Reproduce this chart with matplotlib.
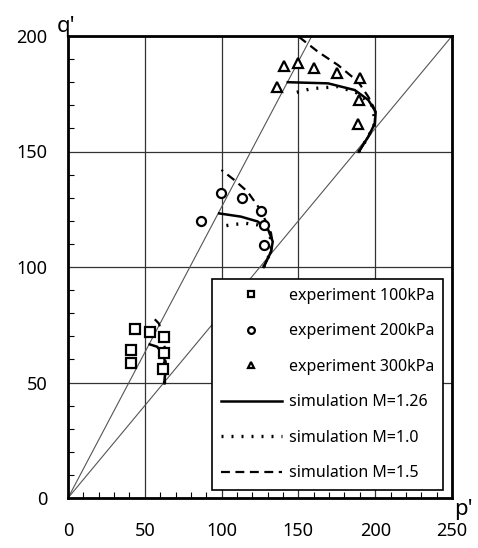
import numpy as np
import matplotlib
matplotlib.use('Agg')
import matplotlib.pyplot as plt
from matplotlib.ticker import MultipleLocator

plt.rcParams['font.family'] = ['Noto Sans', 'DejaVu Sans']

# reference lines through origin (q = slope * p)
line_slopes = [1.26, 0.8]

# experiments (p', q')
exp100_p = [43.8, 53.7, 62.4, 41.2, 62.8, 41.2, 62.0]
exp100_q = [73.2, 72.0, 69.8, 64.1, 62.6, 58.3, 55.8]
exp200_p = [99.5, 113.0, 125.7, 127.4, 127.4, 86.8]
exp200_q = [131.9, 129.7, 124.4, 118.2, 109.5, 119.7]
exp300_p = [140.5, 149.6, 160.1, 175.2, 190.0, 136.1, 189.6, 188.9]
exp300_q = [187.0, 188.2, 186.0, 184.1, 182.0, 177.8, 172.1, 161.8]

# simulation M=1.26
sim126_p = [[62.8, 63.5, 62.4, 58.0, 53.2],
            [127.4, 132.2, 133.3, 130.4, 123.5, 112.6, 98.4],
            [189.3, 195.5, 199.8, 200.3, 195.5, 186.7, 169.3, 143.1]]
sim126_q = [[49.6, 56.8, 61.9, 65.5, 66.5],
            [100.0, 106.7, 111.0, 116.0, 119.7, 121.8, 123.2],
            [149.9, 156.4, 162.2, 167.2, 172.3, 176.6, 179.5, 180.0]]

# simulation M=1.0
sim10_p = [[62.8, 63.3, 62.8, 60.2, 58.0],
           [127.4, 132.0, 132.6, 130.0, 123.5, 115.8, 109.3, 102.7],
           [189.3, 195.5, 199.6, 199.4, 197.6, 188.9, 175.8, 158.4, 146.4]]
sim10_q = [[49.6, 55.5, 59.5, 61.9, 60.5],
           [100.0, 106.5, 111.0, 116.0, 118.2, 118.9, 118.5, 117.9],
           [149.9, 156.4, 162.0, 165.1, 170.1, 175.2, 178.1, 177.2, 175.2]]

# simulation M=1.5
sim15_p = [[62.8, 63.6, 63.3, 61.3, 59.1, 54.8],
           [127.4, 132.2, 133.0, 132.2, 128.9, 124.6, 116.9, 108.2, 99.9],
           [189.3, 195.5, 199.8, 199.8, 195.5, 188.9, 175.8, 162.7, 149.6]]
sim15_q = [[49.6, 57.0, 64.0, 71.3, 75.6, 78.5],
           [100.0, 106.7, 111.0, 114.6, 119.7, 125.4, 132.6, 137.7, 142.0],
           [149.9, 156.4, 162.2, 168.0, 173.7, 180.2, 187.4, 193.2, 200.0]]

fig = plt.figure(figsize=(4.78, 5.48), dpi=100)
ax = fig.add_axes([68/478, 50/548, 384/478, 462/548])

# lines through origin
pp = np.array([0, 250])
for s in line_slopes:
    ax.plot(pp, s * pp, color='#555555', lw=0.8, zorder=2)

mk = dict(ls='none', mfc='white', mec='black', mew=1.6, ms=6.5, zorder=4)
ax.plot(exp100_p, exp100_q, marker='s', label='experiment 100kPa', **mk)
ax.plot(exp200_p, exp200_q, marker='o', label='experiment 200kPa', **mk)
ax.plot(exp300_p, exp300_q, marker='^', label='experiment 300kPa', **mk)

for i in range(3):
    ax.plot(sim126_p[i], sim126_q[i], color='black', lw=1.8, zorder=3,
            label='simulation M=1.26' if i == 0 else None)
for i in range(3):
    ax.plot(sim10_p[i], sim10_q[i], color='black', lw=2.4, ls=(0, (0.6, 2.4)),
            zorder=3, label='simulation M=1.0' if i == 0 else None)
for i in range(3):
    ax.plot(sim15_p[i], sim15_q[i], color='black', lw=1.6, ls=(0, (4, 2.5)),
            zorder=3, label='simulation M=1.5' if i == 0 else None)

ax.set_xlim(0, 250)
ax.set_ylim(0, 200)
ax.xaxis.set_major_locator(MultipleLocator(50))
ax.yaxis.set_major_locator(MultipleLocator(50))
ax.xaxis.set_minor_locator(MultipleLocator(10))
ax.yaxis.set_minor_locator(MultipleLocator(10))
ax.grid(True, which='major', color='#333333', lw=0.9, zorder=1)
ax.tick_params(which='both', direction='in', labelsize=13)
ax.tick_params(which='major', length=0)
ax.tick_params(which='minor', length=4, width=0.8)
ax.tick_params(axis='x', pad=17)
ax.tick_params(axis='y', pad=15)
for sp in ax.spines.values():
    sp.set_linewidth(2)

ax.text(-0.005, 1.009, "q'", transform=ax.transAxes, fontsize=16, fontweight='bold',
        ha='center', va='baseline')
ax.text(1.005, -0.002, "p'", transform=ax.transAxes, fontsize=16, fontweight='bold',
        ha='left', va='top')

leg = ax.legend(loc='lower right', bbox_to_anchor=(0.985, 0.01), fontsize=11.5,
                fancybox=False, edgecolor='black', framealpha=1,
                handlelength=3.8, labelspacing=1.22, markerscale=0.75,
                borderpad=0.55, handletextpad=0.45, borderaxespad=0.2)
leg.get_frame().set_linewidth(1.2)

fig.savefig('out.png', dpi=100)
